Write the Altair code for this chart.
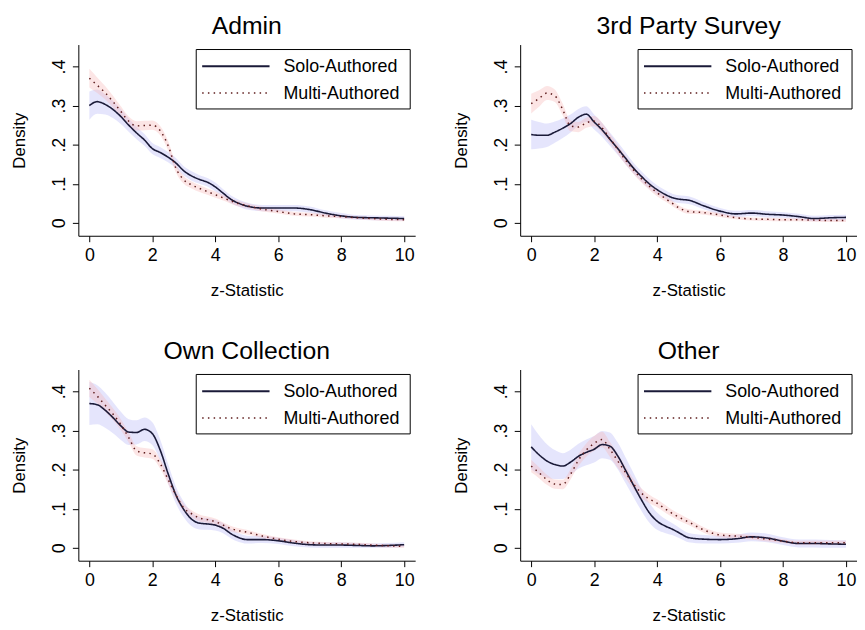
import altair as alt
import pandas as pd

FONT = "Liberation Sans"

# common evaluation grid of the kernel densities (z-statistic)
X = [0, 0.25, 0.5, 0.75, 1, 1.25, 1.5, 1.75, 2, 2.25, 2.5, 2.75, 3, 3.25, 3.5, 3.75,
     4, 4.25, 4.5, 4.75, 5, 5.5, 6, 6.5, 7, 7.5, 8, 8.5, 9, 9.5, 10]

PANELS = ["Admin", "3rd Party Survey", "Own Collection", "Other"]
SERIES = ["Solo-Authored", "Multi-Authored"]

# --- Admin
ADMIN_SOLO = [0.300, 0.310, 0.303, 0.290, 0.272, 0.250, 0.230, 0.212, 0.190, 0.180, 0.168,
              0.153, 0.133, 0.120, 0.111, 0.104, 0.092, 0.076, 0.060, 0.050, 0.043, 0.038,
              0.038, 0.038, 0.034, 0.025, 0.018, 0.014, 0.013, 0.012, 0.011]
ADMIN_SOLO_HW = [0.036, 0.031, 0.026, 0.022, 0.019, 0.017, 0.016, 0.015, 0.014, 0.014, 0.013,
                 0.013, 0.012, 0.012, 0.011, 0.011, 0.011, 0.010, 0.010, 0.009, 0.009, 0.008,
                 0.008, 0.008, 0.008, 0.007, 0.007, 0.006, 0.006, 0.006, 0.006]
ADMIN_MULTI = [0.370, 0.352, 0.333, 0.310, 0.285, 0.260, 0.248, 0.249, 0.250, 0.236, 0.198,
               0.140, 0.110, 0.097, 0.088, 0.080, 0.072, 0.064, 0.056, 0.049, 0.044, 0.035,
               0.029, 0.023, 0.021, 0.018, 0.016, 0.013, 0.011, 0.009, 0.008]
ADMIN_MULTI_HW = [0.024, 0.020, 0.017, 0.015, 0.013, 0.012, 0.012, 0.012, 0.012, 0.012, 0.012,
                  0.011, 0.010, 0.009, 0.009, 0.008, 0.008, 0.007, 0.007, 0.007, 0.006, 0.006,
                  0.005, 0.005, 0.005, 0.005, 0.004, 0.004, 0.004, 0.004, 0.004]

# --- 3rd Party Survey
SURVEY_SOLO = [0.226, 0.224, 0.224, 0.232, 0.242, 0.254, 0.270, 0.278, 0.258, 0.238, 0.214,
               0.190, 0.165, 0.140, 0.119, 0.100, 0.085, 0.073, 0.064, 0.060, 0.058, 0.043,
               0.030, 0.023, 0.025, 0.022, 0.020, 0.016, 0.011, 0.013, 0.014]
SURVEY_SOLO_HW = [0.038, 0.034, 0.030, 0.027, 0.025, 0.023, 0.021, 0.020, 0.019, 0.018, 0.017,
                  0.016, 0.015, 0.014, 0.013, 0.012, 0.011, 0.011, 0.010, 0.010, 0.010, 0.009,
                  0.008, 0.008, 0.008, 0.008, 0.007, 0.007, 0.007, 0.007, 0.007]
SURVEY_MULTI = [0.305, 0.318, 0.332, 0.325, 0.290, 0.248, 0.245, 0.256, 0.260, 0.243, 0.216,
                0.188, 0.160, 0.135, 0.113, 0.094, 0.077, 0.063, 0.049, 0.036, 0.029, 0.026,
                0.020, 0.013, 0.010, 0.009, 0.008, 0.008, 0.007, 0.006, 0.006]
SURVEY_MULTI_HW = [0.025, 0.021, 0.018, 0.016, 0.015, 0.014, 0.013, 0.013, 0.013, 0.013, 0.012,
                   0.012, 0.011, 0.010, 0.010, 0.009, 0.009, 0.008, 0.007, 0.006, 0.006, 0.005,
                   0.005, 0.004, 0.004, 0.004, 0.004, 0.004, 0.004, 0.004, 0.004]

# --- Own Collection
OWN_SOLO = [0.369, 0.366, 0.352, 0.333, 0.312, 0.296, 0.295, 0.303, 0.292, 0.250, 0.190,
            0.135, 0.098, 0.073, 0.063, 0.061, 0.058, 0.050, 0.036, 0.026, 0.021, 0.021,
            0.018, 0.012, 0.008, 0.007, 0.007, 0.006, 0.005, 0.006, 0.008]
OWN_SOLO_HW = [0.055, 0.050, 0.045, 0.040, 0.036, 0.033, 0.031, 0.030, 0.029, 0.027, 0.025,
               0.022, 0.020, 0.018, 0.016, 0.015, 0.014, 0.013, 0.012, 0.011, 0.010, 0.009,
               0.008, 0.008, 0.007, 0.007, 0.007, 0.006, 0.006, 0.006, 0.006]
OWN_MULTI = [0.408, 0.388, 0.365, 0.342, 0.315, 0.282, 0.248, 0.243, 0.240, 0.215, 0.175,
             0.135, 0.102, 0.087, 0.076, 0.072, 0.067, 0.058, 0.049, 0.044, 0.040, 0.030,
             0.022, 0.016, 0.013, 0.011, 0.010, 0.009, 0.007, 0.005, 0.004]
OWN_MULTI_HW = [0.022, 0.019, 0.017, 0.015, 0.014, 0.013, 0.012, 0.012, 0.012, 0.012, 0.012,
                0.011, 0.010, 0.009, 0.009, 0.008, 0.008, 0.007, 0.007, 0.006, 0.006, 0.005,
                0.005, 0.005, 0.004, 0.004, 0.004, 0.004, 0.004, 0.004, 0.004]

# --- Other
OTHER_SOLO = [0.258, 0.238, 0.222, 0.213, 0.209, 0.219, 0.234, 0.244, 0.252, 0.264, 0.260,
              0.235, 0.198, 0.160, 0.123, 0.090, 0.068, 0.056, 0.047, 0.036, 0.026, 0.022,
              0.021, 0.023, 0.028, 0.025, 0.017, 0.011, 0.011, 0.010, 0.009]
OTHER_SOLO_HW = [0.058, 0.050, 0.043, 0.037, 0.033, 0.032, 0.032, 0.033, 0.034, 0.035, 0.035,
                 0.034, 0.033, 0.031, 0.028, 0.025, 0.022, 0.018, 0.015, 0.013, 0.012, 0.011,
                 0.010, 0.010, 0.011, 0.011, 0.010, 0.010, 0.010, 0.010, 0.010]
OTHER_MULTI = [0.209, 0.192, 0.174, 0.163, 0.162, 0.188, 0.224, 0.250, 0.267, 0.277, 0.252,
               0.222, 0.192, 0.163, 0.140, 0.125, 0.114, 0.100, 0.087, 0.076, 0.066, 0.045,
               0.033, 0.030, 0.027, 0.022, 0.017, 0.013, 0.013, 0.013, 0.013]
OTHER_MULTI_HW = [0.016, 0.014, 0.013, 0.012, 0.012, 0.013, 0.015, 0.017, 0.019, 0.020, 0.019,
                  0.017, 0.015, 0.013, 0.012, 0.011, 0.010, 0.010, 0.009, 0.009, 0.008, 0.007,
                  0.006, 0.006, 0.006, 0.006, 0.005, 0.005, 0.005, 0.005, 0.005]

PANEL_DATA = {
    "Admin": (ADMIN_SOLO, ADMIN_SOLO_HW, ADMIN_MULTI, ADMIN_MULTI_HW),
    "3rd Party Survey": (SURVEY_SOLO, SURVEY_SOLO_HW, SURVEY_MULTI, SURVEY_MULTI_HW),
    "Own Collection": (OWN_SOLO, OWN_SOLO_HW, OWN_MULTI, OWN_MULTI_HW),
    "Other": (OTHER_SOLO, OTHER_SOLO_HW, OTHER_MULTI, OTHER_MULTI_HW),
}

SOLO_LINE = "#1a1a38"
MULTI_LINE = "#5e1c1c"
SOLO_BAND = "#b4b4f5"
MULTI_BAND = "#f5b4b4"
DOT = [1.5, 4.3]


def panel_frame(name):
    solo, solo_hw, multi, multi_hw = PANEL_DATA[name]
    rows = []
    for s, vals, hws in ((SERIES[0], solo, solo_hw), (SERIES[1], multi, multi_hw)):
        for xv, v, h in zip(X, vals, hws):
            rows.append({"x": xv, "y": v, "lo": max(v - h, 0.0), "hi": v + h, "series": s})
    return pd.DataFrame(rows)


xscale = alt.Scale(domain=[-0.35, 10.35], nice=False, zero=False)
yscale = alt.Scale(domain=[-0.033, 0.456], nice=False, zero=False)
xaxis = alt.Axis(values=[0, 2, 4, 6, 8, 10], format="d", title="z-Statistic",
                 labelPadding=5, titlePadding=18, labelFlush=False)
yaxis = alt.Axis(values=[0, 0.1, 0.2, 0.3, 0.4],
                 labelExpr="datum.value == 0 ? '0' : replace(format(datum.value, '.1f'), '0.', '.')",
                 labelAngle=270, labelAlign="center", labelBaseline="bottom",
                 labelPadding=4, title="Density", titlePadding=22)

one = pd.DataFrame({"k": [0]})


def make_panel(name):
    df = panel_frame(name)
    base = alt.Chart(df)
    X_ = alt.X("x:Q", scale=xscale, axis=xaxis)

    def band(series, color):
        return base.transform_filter(alt.datum.series == series).mark_area(
            interpolate="monotone", color=color, opacity=0.35
        ).encode(x=X_, y=alt.Y("lo:Q", scale=yscale, axis=yaxis), y2="hi:Q")

    def line(series, color, dash, width):
        return base.transform_filter(alt.datum.series == series).mark_line(
            interpolate="monotone", color=color, strokeDash=dash, strokeWidth=width
        ).encode(x=X_, y=alt.Y("y:Q", scale=yscale, axis=yaxis))

    box = alt.Chart(one).mark_rect(fill="white", stroke="black", strokeWidth=1).encode(
        x=alt.value(119), x2=alt.value(335), y=alt.value(5), y2=alt.value(65))
    key1 = alt.Chart(one).mark_rule(color=SOLO_LINE, strokeWidth=2).encode(
        x=alt.value(125), x2=alt.value(193), y=alt.value(22))
    key2 = alt.Chart(one).mark_rule(color=MULTI_LINE, strokeWidth=1.5, strokeDash=DOT).encode(
        x=alt.value(125), x2=alt.value(193), y=alt.value(49))
    lab1 = alt.Chart(one).mark_text(text=SERIES[0], align="left", baseline="middle",
                                    fontSize=18, font=FONT, color="black").encode(
        x=alt.value(207), y=alt.value(23))
    lab2 = alt.Chart(one).mark_text(text=SERIES[1], align="left", baseline="middle",
                                    fontSize=18, font=FONT, color="black").encode(
        x=alt.value(207), y=alt.value(50))

    return alt.layer(
        band(SERIES[0], SOLO_BAND),
        band(SERIES[1], MULTI_BAND),
        line(SERIES[0], SOLO_LINE, [1, 0], 1.6),
        line(SERIES[1], MULTI_LINE, DOT, 1.5),
        box, key1, key2, lab1, lab2,
    ).properties(
        width=340, height=193,
        title=alt.TitleParams(text=name, anchor="middle", frame="group", offset=6,
                              fontSize=25, font=FONT, fontWeight="normal", color="black"),
    )


row1 = alt.hconcat(make_panel(PANELS[0]), make_panel(PANELS[1]), spacing=38)
row2 = alt.hconcat(make_panel(PANELS[2]), make_panel(PANELS[3]), spacing=38)

chart = alt.vconcat(row1, row2, spacing=41).properties(
    padding={"left": 3, "top": 3, "right": 0, "bottom": 0},
    background="white",
).configure_view(stroke=None).configure_axis(
    domainColor="black", tickColor="black", labelColor="black", titleColor="black",
    labelFont=FONT, titleFont=FONT, labelFontSize=18, titleFontSize=17,
    titleFontWeight="normal", grid=False, tickSize=6, domainWidth=1, tickWidth=1,
)

chart.save("out.html", embed_options={"renderer": "svg", "actions": False})
